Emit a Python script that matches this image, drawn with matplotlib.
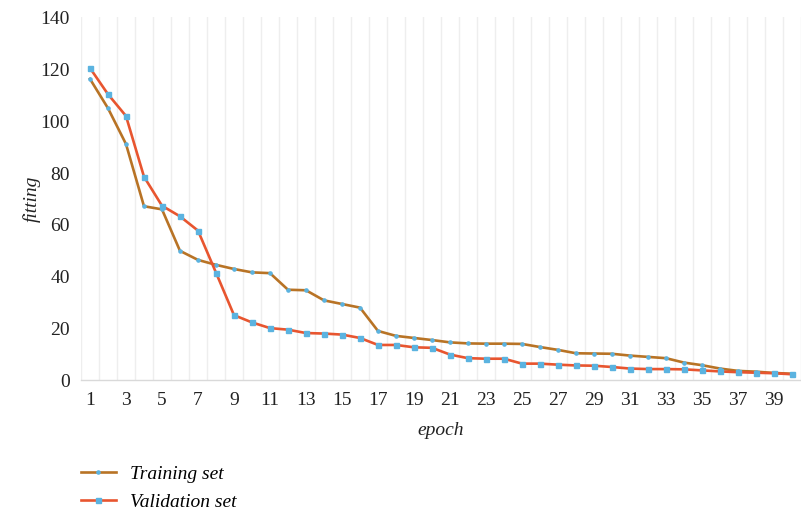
import numpy as np
import matplotlib
matplotlib.use("Agg")
import matplotlib.pyplot as plt

epochs = list(range(1, 41))
training = [116.3, 105.0, 91.2, 67.2, 66.0, 50.0, 46.5, 44.6, 43.0, 41.7,
            41.4, 35.0, 34.8, 30.9, 29.5, 28.1, 19.1, 17.2, 16.4, 15.6,
            14.7, 14.3, 14.2, 14.2, 14.1, 12.9, 11.8, 10.5, 10.4, 10.3,
            9.6, 9.1, 8.6, 6.9, 5.9, 4.6, 3.7, 3.4, 2.9, 2.6]
validation = [120.5, 110.4, 102.0, 78.6, 67.4, 63.3, 57.8, 41.6, 25.2, 22.4,
              20.2, 19.6, 18.3, 18.1, 17.7, 16.4, 13.7, 13.7, 12.8, 12.6,
              10.0, 8.6, 8.4, 8.4, 6.5, 6.5, 6.1, 5.8, 5.7, 5.2,
              4.6, 4.4, 4.4, 4.3, 3.9, 3.5, 3.2, 3.0, 2.8, 2.4]
xtick_labels = [str(e) for e in range(1, 40, 2)]
yticks = [0, 20, 40, 60, 80, 100, 120, 140]

plt.rcParams["font.family"] = ["Liberation Serif", "DejaVu Serif"]

fig = plt.figure(figsize=(8.01, 5.11), dpi=100)
ax = fig.add_axes([0.1011, 0.2554, 0.8989, 0.7104])

ax.plot(epochs, training, color="#B87325", lw=1.9, marker="o", ms=2.3,
        mfc="#5BB3E0", mec="#5BB3E0", label="Training set", zorder=3)
ax.plot(epochs, validation, color="#E8552F", lw=1.9, marker="s", ms=3.6,
        mfc="#5BB3E0", mec="#5BB3E0", label="Validation set", zorder=4)

ax.set_xlim(0.5, 40.5)
ax.set_ylim(0, 140)
ax.set_xticks(range(1, 40, 2))
ax.set_xticklabels(xtick_labels)
ax.set_yticks(yticks)
ax.set_xticks(np.arange(0.5, 41, 1), minor=True)
ax.tick_params(axis="both", which="both", length=0, labelsize=14, colors="#222222")
ax.tick_params(axis="x", pad=8)
ax.tick_params(axis="y", pad=8)
ax.grid(True, which="minor", axis="x", color="#EEEEEE", lw=1.0)
ax.grid(False, which="major")
for s in ["top", "right", "left"]:
    ax.spines[s].set_visible(False)
ax.spines["bottom"].set_color("#D9D9D9")
ax.spines["bottom"].set_linewidth(1.0)

ax.set_xlabel("epoch", fontsize=14, style="italic", labelpad=10, color="#222222")
ax.set_ylabel("fitting", fontsize=14, style="italic", labelpad=0, color="#222222")

fig.legend(loc="upper left", bbox_to_anchor=(0.101, 0.09), frameon=False,
           borderpad=0, borderaxespad=0, handlelength=1.8, handletextpad=0.7,
           labelspacing=0.55, prop={"size": 14, "style": "italic"})

fig.savefig("out.png", dpi=100)
